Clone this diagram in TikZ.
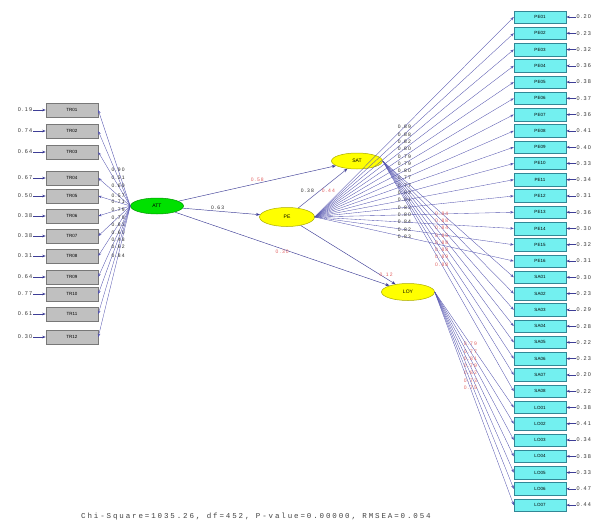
\documentclass[tikz,border=0pt]{standalone}
\usepackage{fontspec}
\setmainfont{Liberation Sans}
\newfontfamily\numfont[LetterSpace=22]{Liberation Sans}
\newfontfamily\fitfont[LetterSpace=25]{Liberation Mono}
\usetikzlibrary{arrows.meta,shapes.geometric}

\definecolor{pathblue}{RGB}{62,62,150}
\definecolor{fanblue}{RGB}{85,85,175}
\definecolor{lblred}{RGB}{225,95,95}
\definecolor{boxgrey}{RGB}{192,192,192}
\definecolor{greyedge}{RGB}{120,120,120}
\definecolor{boxcyan}{RGB}{115,240,240}
\definecolor{cyanedge}{RGB}{50,135,150}
\definecolor{latgreen}{RGB}{0,225,0}
\definecolor{greenedge}{RGB}{0,150,0}
\definecolor{latyellow}{RGB}{255,255,0}
\definecolor{yellowedge}{RGB}{170,170,0}

\begin{document}
\begin{tikzpicture}[x=1pt,y=-1pt,
  obsL/.style={draw=greyedge,fill=boxgrey,line width=0.5pt,minimum width=52pt,minimum height=14pt,inner sep=0pt,font=\fontsize{4.5}{5}\selectfont},
  obsR/.style={draw=cyanedge,fill=boxcyan,line width=0.5pt,minimum width=52pt,minimum height=12.5pt,inner sep=0pt,font=\fontsize{4.5}{5}\selectfont},
  latG/.style={ellipse,draw=greenedge,fill=latgreen,line width=0.5pt,minimum width=53pt,minimum height=16pt,inner sep=0pt,font=\fontsize{5}{6}\selectfont},
  latY/.style={ellipse,draw=yellowedge,fill=latyellow,line width=0.5pt,minimum width=53pt,minimum height=17pt,inner sep=0pt,font=\fontsize{5}{6}\selectfont},
  pathar/.style={draw=pathblue,line width=0.45pt,-{Stealth[length=4pt,width=3pt]}},
  fan/.style={draw=fanblue,line width=0.35pt,-{Stealth[length=3.5pt,width=2.6pt]}},
  err/.style={draw=pathblue,line width=0.6pt,-{Stealth[length=3.5pt,width=2.6pt]}},
  lbl/.style={font=\numfont\fontsize{5}{6}\selectfont,inner sep=0.3pt,text=black!85},
  rlbl/.style={lbl,text=lblred},
  elbl/.style={font=\numfont\fontsize{5.5}{6}\selectfont,inner sep=0.5pt,text=black!80}]
\useasboundingbox (0,0) rectangle (598,522);

% latent variables
\node[latG] (G) at (157,206) {ATT};
\node[latY,minimum width=55pt,minimum height=19pt] (B) at (287,217) {PE};
\node[latY,minimum width=51pt,minimum height=16pt] (E1) at (357,161) {SAT};
\node[latY,minimum width=53pt,minimum height=17pt] (E2) at (408,292) {LOY};

% left indicators with error terms
\foreach \i/\y/\t/\e in {1/110/TR01/0.19, 2/131/TR02/0.74, 3/152/TR03/0.64, 4/178/TR04/0.67,
    5/196/TR05/0.50, 6/216/TR06/0.38, 7/236/TR07/0.38, 8/256/TR08/0.31,
    9/277/TR09/0.64, 10/294/TR10/0.77, 11/314/TR11/0.61, 12/337/TR12/0.30}{
  \node[obsL] (L\i) at (72,\y) {\t};
  \node[elbl,anchor=east] (eL\i) at (33,\y) {\e};
  \draw[err] (eL\i.east) -- (L\i.west);
}

% right indicators with error terms
\foreach \i/\t/\e in {1/PE01/0.20, 2/PE02/0.23, 3/PE03/0.32, 4/PE04/0.36, 5/PE05/0.38,
    6/PE06/0.37, 7/PE07/0.36, 8/PE08/0.41, 9/PE09/0.40, 10/PE10/0.33, 11/PE11/0.34,
    12/PE12/0.31, 13/PE13/0.36, 14/PE14/0.30, 15/PE15/0.32, 16/PE16/0.31,
    17/SA01/0.30, 18/SA02/0.23, 19/SA03/0.29, 20/SA04/0.28, 21/SA05/0.22,
    22/SA06/0.23, 23/SA07/0.20, 24/SA08/0.22,
    25/LO01/0.38, 26/LO02/0.41, 27/LO03/0.34, 28/LO04/0.38, 29/LO05/0.33,
    30/LO06/0.47, 31/LO07/0.44}{
  \pgfmathsetmacro\yy{17+(\i-1)*16.27}
  \node[obsR] (R\i) at (540,\yy) {\t};
  \node[elbl,anchor=west] (eR\i) at (576,\yy) {\e};
  \draw[err] (eR\i.west) -- (R\i.east);
}

% measurement paths
\foreach \i/\v in {1/0.90, 2/0.51, 3/0.60, 4/0.57, 5/0.71, 6/0.79, 7/0.79, 8/0.83,
    9/0.60, 10/0.48, 11/0.62, 12/0.84}{
  \draw[fan] (G.west) -- (L\i.east) node[lbl,pos=0.38] {\v};
}
\foreach \i/\v in {1/0.89, 2/0.88, 3/0.82, 4/0.80, 5/0.79, 6/0.79, 7/0.80, 8/0.77,
    9/0.77, 10/0.82, 11/0.81, 12/0.83, 13/0.80, 14/0.84, 15/0.82, 16/0.83}{
  \draw[fan] (B.east) -- (R\i.west) node[lbl,pos=0.45] {\v};
}
\foreach \i/\v in {17/0.84, 18/0.88, 19/0.84, 20/0.85, 21/0.88, 22/0.88, 23/0.89, 24/0.88}{
  \draw[fan] (E1.east) -- (R\i.west) node[rlbl,pos=0.45] {\v};
}
\foreach \i/\v in {25/0.79, 26/0.77, 27/0.81, 28/0.79, 29/0.82, 30/0.73, 31/0.75}{
  \draw[fan] (E2.east) -- (R\i.west) node[rlbl,pos=0.45] {\v};
}

% structural paths
\draw[pathar] (G) -- (E1) node[rlbl,pos=0.5,above=1pt] {0.58};
\draw[pathar] (G) -- (B) node[lbl,pos=0.45,above=1pt] {0.63};
\draw[pathar] (G) -- (E2) node[rlbl,pos=0.5,below=1pt] {0.30};
\draw[pathar] (B) -- (E1) node[rlbl,pos=0.45,right=1pt] {0.44}
                          node[lbl,pos=0.45,left=6pt] {0.38};
\draw[pathar] (B) -- (E2) node[rlbl,pos=0.9,above=1pt] {0.12};

% fit statistics
\node[font=\fitfont\fontsize{7.5}{8}\selectfont,text=black!75] (fit) at (256,517)
  {Chi-Square=1035.26, df=452, P-value=0.00000, RMSEA=0.054};
\end{tikzpicture}
\end{document}
